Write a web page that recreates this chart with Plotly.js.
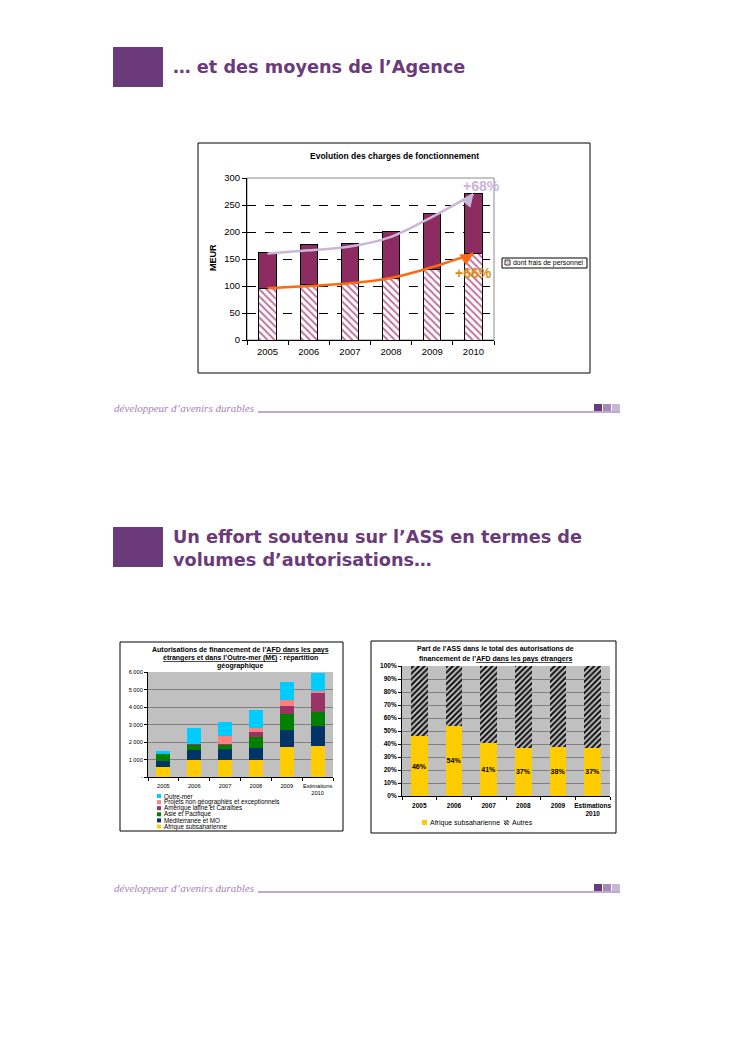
<!DOCTYPE html>
<html><head><meta charset="utf-8">
<script src="https://cdn.plot.ly/plotly-3.0.1.min.js"></script>
<style>html,body{margin:0;padding:0;background:#fff}#page{width:749px;height:1055px}</style>
</head><body><div id="page"></div>
<script>
// ---------- Chart 1 : Evolution des charges de fonctionnement ----------
const years1 = ['2005','2006','2007','2008','2009','2010'];
const totalCharges = [162,177,179,201,235,272];
const personnelCharges = [96,102,104,113,131,160];
const otherCharges = [66,75,75,88,104,112];
const trendTotal = [160,166,173,191,228,270];
const trendPersonnel = [96,100,105,115,135,160];
const chart1Title = 'Evolution des charges de fonctionnement';
const chart1Legend = 'dont frais de personnel';

// ---------- Chart 2 : Autorisations de financement ----------
const years2 = ['2005','2006','2007','2008','2009','Estimations<br>2010'];
const afrique = [600,1000,950,1000,1740,1790];
const mediterranee = [290,570,670,680,960,1130];
const asie = [450,280,210,620,900,800];
const amerique = [0,50,70,250,460,1070];
const projets = [0,10,460,260,340,120];
const outremer = [170,900,790,1020,1020,1010];
const regionNames = ['Afrique subsaharienne','Méditerranée et MO','Asie et Pacifique','Amérique latine et Caraïbes','Projets non géographiés et exceptionnels','Outre-mer'];
const tickVals2 = [0,1000,2000,3000,4000,5000,6000];
const tickText2 = ['-','1 000','2 000','3 000','4 000','5 000','6 000'];

// ---------- Chart 3 : Part de l'ASS ----------
const assShare = [46,54,41,37,38,37];
const autresShare = [54,46,59,63,62,63];
const shareNames = ['Afrique subsaharienne','Autres'];
const tickVals3 = [0,10,20,30,40,50,60,70,80,90,100];
const tickText3 = ['0%','10%','20%','30%','40%','50%','60%','70%','80%','90%','100%'];

// ---------- helpers ----------
const W = 749, H = 1055;
const px = v => v / W, py = v => 1 - v / H;
const shapes = [], ann = [];
const FONT = 'Liberation Sans, Arial, sans-serif';
const HFONT = 'DejaVu Sans, Verdana, sans-serif';
const PURPLE = '#6b3a7a';
function rectPx(x0, y0, x1, y1, o) {
  shapes.push(Object.assign({type:'rect', xref:'paper', yref:'paper', x0:px(x0), x1:px(x1), y0:py(y1), y1:py(y0), line:{width:0}}, o));
}
function linePx(x0, y0, x1, y1, o) {
  shapes.push(Object.assign({type:'line', xref:'paper', yref:'paper', x0:px(x0), x1:px(x1), y0:py(y0), y1:py(y1)}, o));
}
function textPx(x, y, text, o) {
  ann.push(Object.assign({xref:'paper', yref:'paper', x:px(x), y:py(y), text:text, showarrow:false, xanchor:'left', yanchor:'middle', borderpad:0}, o));
}

// ---------- page headings ----------
rectPx(113, 47, 163, 87, {fillcolor:PURPLE});
textPx(172, 67, '… et des moyens de l’Agence', {font:{family:HFONT, size:17.7, color:PURPLE, weight:'bold'}});
rectPx(113, 527, 163, 567, {fillcolor:PURPLE});
textPx(172, 537, 'Un effort soutenu sur l’ASS en termes de', {font:{family:HFONT, size:17.7, color:PURPLE, weight:'bold'}});
textPx(172, 560, 'volumes d’autorisations…', {font:{family:HFONT, size:17.7, color:PURPLE, weight:'bold'}});

function footer(yLine) {
  textPx(113, yLine - 4, 'développeur d’avenirs durables', {font:{family:'Liberation Serif, serif', size:11, color:'#a383b3', style:'italic'}});
  linePx(258, yLine, 620, yLine, {line:{color:'#a88fbb', width:1.5}});
  rectPx(594, yLine - 8, 602, yLine - 1, {fillcolor:'#6b3a7a'});
  rectPx(603, yLine - 8, 611, yLine - 1, {fillcolor:'#a58cb8'});
  rectPx(612, yLine - 8, 620, yLine - 1, {fillcolor:'#c9b6d6'});
}
footer(412);
footer(892);

// ---------- chart frames ----------
rectPx(198, 143, 590, 373, {line:{color:'#000', width:1}, fillcolor:'rgba(0,0,0,0)'});
rectPx(120, 642, 343, 831, {line:{color:'#000', width:1}, fillcolor:'rgba(0,0,0,0)'});
rectPx(371, 641, 616, 833, {line:{color:'#000', width:1}, fillcolor:'rgba(0,0,0,0)'});

// chart 1 plot border (grey right/top)
shapes.push({type:'rect', xref:'x domain', yref:'y domain', x0:0, x1:1, y0:0, y1:1, line:{color:'#8a8a8a', width:1}, layer:'below'});
// chart 2 & 3 grey plot areas
shapes.push({type:'rect', xref:'x2 domain', yref:'y2 domain', x0:0, x1:1, y0:0, y1:1, fillcolor:'#c0c0c0', line:{width:0}, layer:'below'});
shapes.push({type:'rect', xref:'x3 domain', yref:'y3 domain', x0:0, x1:1, y0:0, y1:1, fillcolor:'#c0c0c0', line:{width:0}, layer:'below'});

// ---------- chart 1 texts ----------
textPx(394, 156, '<b>' + chart1Title + '</b>', {xanchor:'center', font:{family:FONT, size:8.5, color:'#000'}});
textPx(213, 258, '<b>MEUR</b>', {xanchor:'center', textangle:-90, font:{family:FONT, size:9, color:'#000'}});
textPx(481, 186, '<b>+68%</b>', {xanchor:'center', font:{family:FONT, size:14, color:'#c9b6d8'}});
textPx(473, 273, '<b>+66%</b>', {xanchor:'center', font:{family:FONT, size:14, color:'#dd8c12'}});
// legend chart 1
rectPx(502, 258, 587, 268, {line:{color:'#000', width:1}, fillcolor:'#fff'});
rectPx(505, 260, 510, 265, {line:{color:'#000', width:0.8}, fillcolor:'#fff'});
linePx(505.5, 261, 509, 264.5, {line:{color:'#c36f9c', width:0.8}});
linePx(507, 260.5, 509.5, 263, {line:{color:'#c36f9c', width:0.8}});
textPx(512, 263, chart1Legend, {font:{family:FONT, size:6.9, color:'#000'}});
// arrow heads
ann.push({xref:'x', yref:'y', x:5, y:trendTotal[5], axref:'x', ayref:'y', ax:4.82, ay:253, showarrow:true, arrowhead:2, arrowsize:1, arrowwidth:2.5, arrowcolor:'#c9b6d8', text:''});
ann.push({xref:'x', yref:'y', x:5, y:trendPersonnel[5], axref:'x', ayref:'y', ax:4.8, ay:151, showarrow:true, arrowhead:2, arrowsize:1, arrowwidth:2.5, arrowcolor:'#ff6a10', text:''});

// ---------- chart 2 texts ----------
const UL = '<span style="text-decoration:underline">';
textPx(240, 650, '<b>Autorisations de financement de l’' + UL + 'AFD dans les pays</span></b>', {xanchor:'center', font:{family:FONT, size:7, color:'#000'}});
textPx(240, 658, '<b>' + UL + 'étrangers et dans l’Outre-mer (M€)</span> : répartition</b>', {xanchor:'center', font:{family:FONT, size:7, color:'#000'}});
textPx(240, 666, '<b>géographique</b>', {xanchor:'center', font:{family:FONT, size:7, color:'#000'}});
const regionColors = ['#ffcc00','#003366','#008000','#993366','#ff8080','#00ccff'];
for (let i = 0; i < 6; i++) {
  const k = 5 - i; // top item first
  const yy = 796 + i * 6.1;
  rectPx(157, yy - 2, 161, yy + 2, {fillcolor:regionColors[k]});
  textPx(162.5, yy, regionNames[k], {font:{family:FONT, size:6.3, color:'#000'}});
}

// ---------- chart 3 texts ----------
textPx(495, 648, '<b>Part de l’ASS dans le total des autorisations de</b>', {xanchor:'center', font:{family:FONT, size:7, color:'#000'}});
textPx(495, 659, '<b>financement de l’' + UL + 'AFD dans les pays étrangers</span></b>', {xanchor:'center', font:{family:FONT, size:7, color:'#000'}});
rectPx(422, 820, 427, 825, {fillcolor:'#ffcc00'});
textPx(428.5, 822.5, shareNames[0], {font:{family:FONT, size:7, color:'#000'}});
rectPx(504, 820, 509, 825, {fillcolor:'#cfcfcf'});
linePx(504, 823, 506, 825, {line:{color:'#111', width:1}});
linePx(504, 820.5, 508.5, 825, {line:{color:'#111', width:1}});
linePx(506.5, 820, 509, 822.5, {line:{color:'#111', width:1}});
textPx(510.5, 822.5, shareNames[1], {font:{family:FONT, size:7, color:'#000'}});

// ---------- traces ----------
const traces = [];
traces.push({type:'bar', x:years1, y:personnelCharges, xaxis:'x', yaxis:'y', width:0.42, name:chart1Legend,
  marker:{color:'#ffffff', line:{color:'#000', width:1}, pattern:{shape:'\\', fgcolor:'#c36f9c', bgcolor:'#ffffff', size:5, solidity:0.4}}});
traces.push({type:'bar', x:years1, y:otherCharges, xaxis:'x', yaxis:'y', width:0.42, name:'Autres charges',
  marker:{color:'#8c2c60', line:{color:'#000', width:1}}});
traces.push({type:'scatter', mode:'lines', x:years1, y:trendTotal, xaxis:'x', yaxis:'y', line:{color:'#c9b6d8', width:2.5, shape:'spline'}});
traces.push({type:'scatter', mode:'lines', x:years1, y:trendPersonnel, xaxis:'x', yaxis:'y', line:{color:'#ff6a10', width:2.5, shape:'spline'}});

const regionSeries = [afrique, mediterranee, asie, amerique, projets, outremer];
regionSeries.forEach((s, i) => traces.push({type:'bar', x:years2, y:s, xaxis:'x2', yaxis:'y2', width:0.45, name:regionNames[i], marker:{color:regionColors[i], line:{width:0}}}));

traces.push({type:'bar', x:years2, y:assShare, xaxis:'x3', yaxis:'y3', width:0.48, name:shareNames[0],
  marker:{color:'#ffcc00', line:{width:0}}, text:assShare.map(v => v + '%'), textposition:'inside', insidetextanchor:'middle',
  constraintext:'none', textangle:0, textfont:{family:FONT, size:7, color:'#000', weight:'bold'}});
traces.push({type:'bar', x:years2, y:autresShare, xaxis:'x3', yaxis:'y3', width:0.48, name:shareNames[1],
  marker:{color:'#1a1a1a', line:{width:0}, pattern:{shape:'/', fgcolor:'#1a1a1a', bgcolor:'#d8d8d8', size:4, solidity:0.6}}});

const xCommon = {type:'category', showline:true, linecolor:'#000', linewidth:1, ticks:'outside', tickson:'boundaries', tickcolor:'#000', tickangle:0, showgrid:false, zeroline:false, range:[-0.5, 5.5], fixedrange:true};
const layout = {
  width:W, height:H, margin:{l:0, r:0, t:0, b:0}, paper_bgcolor:'#fff', plot_bgcolor:'rgba(0,0,0,0)',
  showlegend:false, barmode:'stack', font:{family:FONT, color:'#000'},
  xaxis:Object.assign({}, xCommon, {domain:[px(247), px(494)], anchor:'y', ticklen:4, ticklabelstandoff:3, tickfont:{size:9.5}}),
  yaxis:{domain:[py(340), py(178)], anchor:'x', range:[0,300], tick0:0, dtick:50, showline:true, linecolor:'#000', ticks:'outside', ticklen:4, tickcolor:'#000',
    showgrid:true, gridcolor:'#000', griddash:'dash', gridwidth:1, zeroline:false, tickfont:{size:9.5}, fixedrange:true},
  xaxis2:Object.assign({}, xCommon, {domain:[px(148), px(333)], anchor:'y2', ticklen:3, ticklabelstandoff:3, tickfont:{size:5.7}}),
  yaxis2:{domain:[py(777), py(672)], anchor:'x2', range:[0,6000], tickvals:tickVals2, ticktext:tickText2, showline:true, linecolor:'#000', ticks:'outside', ticklen:3, tickcolor:'#000',
    showgrid:true, gridcolor:'#808080', gridwidth:1, zeroline:false, tickfont:{size:5.7}, fixedrange:true},
  xaxis3:Object.assign({}, xCommon, {domain:[px(402), px(610)], anchor:'y3', ticklen:3, ticklabelstandoff:3, tickfont:{size:6.5, weight:'bold'}}),
  yaxis3:{domain:[py(796), py(666)], anchor:'x3', range:[0,100], tickvals:tickVals3, ticktext:tickText3, showline:true, linecolor:'#000', ticks:'outside', ticklen:3, tickcolor:'#000',
    showgrid:true, gridcolor:'#808080', gridwidth:1, zeroline:false, tickfont:{size:6.5, weight:'bold'}, fixedrange:true},
  shapes:shapes, annotations:ann
};
Plotly.newPlot('page', traces, layout, {staticPlot:true, displayModeBar:false});
</script>
</body></html>
